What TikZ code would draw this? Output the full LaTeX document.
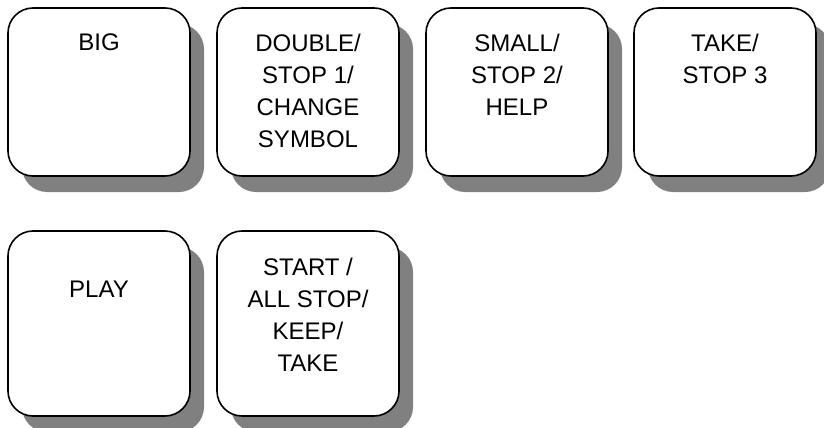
\documentclass[tikz,border=0pt]{standalone}
\usepackage{fontspec}
\setmainfont{Liberation Sans}
\begin{document}
\begin{tikzpicture}[x=1pt,y=-1pt,
  key/.style={draw=black,line width=1.6pt,fill=white,rounded corners=25pt,
    minimum width=182pt,minimum height=#1,anchor=north west,inner sep=0pt,outer sep=0pt},
  keyshadow/.style={fill=black!50,rounded corners=25pt,draw=none},
  lbl/.style={anchor=north,align=center,inner sep=0pt,
    font=\fontsize{24}{32}\selectfont}]
\useasboundingbox (0,0) rectangle (824,428);
% shadows
\foreach \x in {8,217,426,634}{
  \fill[keyshadow] (\x+14,8+16) rectangle (\x+182+14,176+16);
}
\foreach \x in {8,217}{
  \fill[keyshadow] (\x+14,231+16) rectangle (\x+182+14,416+16);
}
% keys
\node[key=168pt] (b1) at (8,8) {};
\node[key=168pt] (b2) at (217,8) {};
\node[key=168pt] (b3) at (426,8) {};
\node[key=168pt] (b4) at (634,8) {};
\node[key=185pt] (b5) at (8,231) {};
\node[key=185pt] (b6) at (217,231) {};
% labels
\node[lbl] (t1) at ([yshift=-26pt]b1.north) {BIG};
\node[lbl] (t2) at ([yshift=-26pt]b2.north) {DOUBLE/\\STOP 1/\\CHANGE\\SYMBOL};
\node[lbl] (t3) at ([yshift=-26pt]b3.north) {SMALL/\\STOP 2/\\HELP};
\node[lbl] (t4) at ([yshift=-26pt]b4.north) {TAKE/\\STOP 3};
\node[lbl] (t5) at ([yshift=-50pt]b5.north) {PLAY};
\node[lbl] (t6) at ([yshift=-27pt]b6.north) {START /\\ALL STOP/\\KEEP/\\TAKE};
\end{tikzpicture}
\end{document}
